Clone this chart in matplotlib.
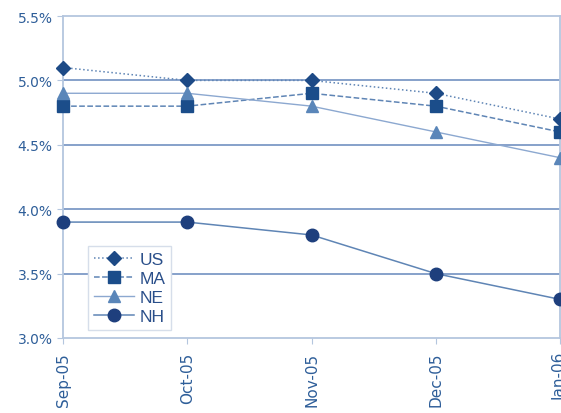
import matplotlib.pyplot as plt
import matplotlib.ticker as mticker

months = ['Sep-05', 'Oct-05', 'Nov-05', 'Dec-05', 'Jan-06']
us = [5.1, 5.0, 5.0, 4.9, 4.7]
ma = [4.8, 4.8, 4.9, 4.8, 4.6]
ne = [4.9, 4.9, 4.8, 4.6, 4.4]
nh = [3.9, 3.9, 3.8, 3.5, 3.3]

text_col = '#2E5E99'
grid_col = '#7D9AC6'
frame_col = '#B4C6DE'

fig = plt.figure(figsize=(5.61, 4.14), dpi=100)
ax = fig.add_axes([63 / 561, 1 - 339 / 414, 497 / 561, 322 / 414])

x = range(len(months))
ax.plot(x, us, ls=':', lw=1.1, color='#5F85B5', marker='D', ms=7,
        mfc='#1D4A86', mec='#1D4A86', label='US', clip_on=False, zorder=5)
ax.plot(x, ma, ls='--', lw=1.1, color='#5F85B5', marker='s', ms=8.5,
        mfc='#1B4D8A', mec='#1B4D8A', label='MA', clip_on=False, zorder=5)
ax.plot(x, ne, ls='-', lw=1.0, color='#8CA8D0', marker='^', ms=8.5,
        mfc='#5A86B9', mec='#5A86B9', label='NE', clip_on=False, zorder=5)
ax.plot(x, nh, ls='-', lw=1.1, color='#5F85B5', marker='o', ms=9,
        mfc='#1E3F7D', mec='#1E3F7D', label='NH', clip_on=False, zorder=5)

ax.set_xlim(0, 4)
ax.set_ylim(3.0, 5.5)
ax.set_xticks(list(x))
ax.set_xticklabels(months, rotation=90, fontsize=11, color=text_col)
ax.set_yticks([3.0, 3.5, 4.0, 4.5, 5.0, 5.5])
ax.yaxis.set_major_formatter(mticker.FuncFormatter(lambda v, p: '%.1f%%' % v))
ax.tick_params(axis='y', labelsize=10, labelcolor=text_col, color=frame_col, length=4)
ax.tick_params(axis='x', color=frame_col, length=4, pad=6)

for g in [3.5, 4.0, 4.5, 5.0]:
    ax.axhline(g, color=grid_col, lw=1.3, zorder=1)

for s in ax.spines.values():
    s.set_color(frame_col)
    s.set_linewidth(1.3)

leg = ax.legend(loc='upper left', bbox_to_anchor=(25 / 497, (339 - 247) / 322),
                borderaxespad=0, labelspacing=0.22, handlelength=2.3,
                handletextpad=0.3, borderpad=0.35, fancybox=False,
                framealpha=1, edgecolor='#D6DEEA',
                prop={'family': 'Liberation Sans', 'size': 12.5})
for t in leg.get_texts():
    t.set_color('#2A4F8A')

fig.savefig('out.png', dpi=100)
